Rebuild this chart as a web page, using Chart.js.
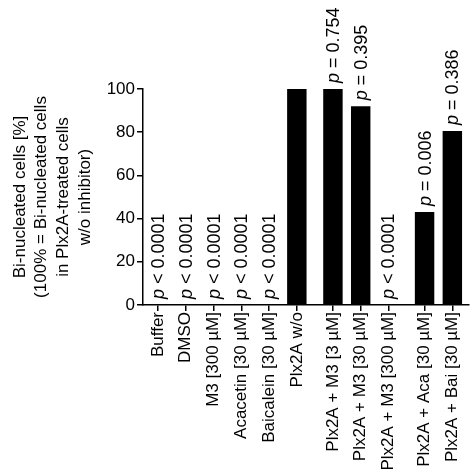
<!DOCTYPE html>
<html>
<head>
<meta charset="utf-8">
<script src="https://cdn.jsdelivr.net/npm/chart.js@4.4.0/dist/chart.umd.min.js"></script>
<style>
  html, body { margin: 0; padding: 0; background: #fff; }
  #wrap { width: 474px; height: 475px; }
</style>
</head>
<body>
<div id="wrap"><canvas id="myChart"></canvas></div>
<script>
'use strict';

let categories = ['Buffer', 'DMSO', 'M3 [300 µM]', 'Acacetin [30 µM]', 'Baicalein [30 µM]',
  'Plx2A w/o', 'Plx2A + M3 [3 µM]', 'Plx2A + M3 [30 µM]', 'Plx2A + M3 [300 µM]',
  'Plx2A + Aca [30 µM]', 'Plx2A + Bai [30 µM]'];
let binucleated = [0, 0, 0, 0, 0, 100, 100, 92, 0, 43, 80.5];
let pText = ['< 0.0001', '< 0.0001', '< 0.0001', '< 0.0001', '< 0.0001', '',
  '= 0.754', '= 0.395', '< 0.0001', '= 0.006', '= 0.386'];
let groupOf = [0, 0, 0, 0, 0, 0, 1, 1, 1, 2, 2];

const FONT = '"Liberation Sans", Arial, sans-serif';

// small extra space between the groups of bars
let xPos = categories.map((c, i) => i + groupOf[i] * 0.3);

// rotated "p = ..." text sitting on top of each bar
const pLabels = {
  id: 'pLabels',
  afterDatasetsDraw(chart) {
    let ctx = chart.ctx;
    let bars = chart.getDatasetMeta(0).data;
    ctx.save();
    ctx.fillStyle = '#000';
    ctx.textBaseline = 'middle';
    ctx.textAlign = 'left';
    bars.forEach((bar, i) => {
      if (!pText[i]) return;
      ctx.save();
      ctx.translate(bar.x + 1, bar.y - 6);
      ctx.rotate(-Math.PI / 2);
      ctx.font = 'italic 18px ' + FONT;
      ctx.fillText('p', 0, 0);
      let pw = ctx.measureText('p').width;
      ctx.font = '18px ' + FONT;
      ctx.fillText(' ' + pText[i], pw, 0);
      ctx.restore();
    });
    ctx.restore();
  }
};

let ctx = document.getElementById('myChart').getContext('2d');

let myChart = new Chart(ctx, {
  type: 'bar',
  data: {
    datasets: [{
      data: xPos.map((x, i) => ({ x: x, y: binucleated[i] })),
      backgroundColor: '#000',
      borderWidth: 0,
      categoryPercentage: 1,
      barPercentage: 0.7
    }]
  },
  plugins: [pLabels],
  options: {
    responsive: true,
    maintainAspectRatio: false,
    animation: false,
    layout: { padding: { top: 89, right: 5, left: 0, bottom: 0 } },
    plugins: { legend: { display: false }, tooltip: { enabled: false } },
    scales: {
      x: {
        type: 'linear',
        min: -0.54,
        max: 11.2,
        offset: false,
        afterBuildTicks: (scale) => { scale.ticks = xPos.map(v => ({ value: v })); },
        afterFit: (scale) => { scale.height = 170; },
        border: { display: true, color: '#000', width: 1.5 },
        grid: { display: true, offset: false, drawOnChartArea: false, drawTicks: true, tickLength: 6, color: '#000', lineWidth: 1.5 },
        ticks: {
          autoSkip: false,
          minRotation: 90,
          maxRotation: 90,
          padding: 1,
          color: '#000',
          font: { family: FONT, size: 17 },
          callback: (v) => {
            let i = xPos.findIndex(p => Math.abs(p - v) < 1e-6);
            return i >= 0 ? categories[i] : '';
          }
        }
      },
      y: {
        min: 0,
        max: 100,
        afterFit: (scale) => { scale.width = 143; },
        border: { display: true, color: '#000', width: 1.5 },
        grid: { display: true, drawOnChartArea: false, drawTicks: true, tickLength: 6, color: '#000', lineWidth: 1.5 },
        ticks: {
          stepSize: 20,
          padding: 2,
          color: '#000',
          font: { family: FONT, size: 17 }
        },
        title: {
          display: true,
          text: ['Bi-nucleated cells [%]', '(100% = Bi-nucleated cells', 'in Plx2A-treated cells', 'w/o inhibitor)'],
          color: '#000',
          font: { family: FONT, size: 17, lineHeight: 1.28 },
          padding: { top: 9, bottom: 0 }
        }
      }
    }
  }
});
</script>
</body>
</html>
